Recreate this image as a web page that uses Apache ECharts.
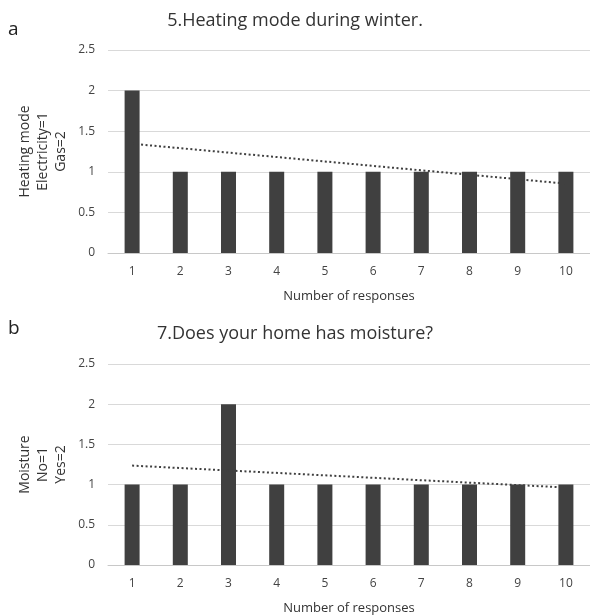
<!DOCTYPE html>
<html><head><meta charset="utf-8">
<script src="https://cdn.jsdelivr.net/npm/echarts@6/dist/echarts.min.js"></script>
<style>html,body{margin:0;padding:0;background:#fff}#c{width:590px;height:616px}</style>
</head><body><div id="c"></div>
<script>
const categories = ['1','2','3','4','5','6','7','8','9','10'];
const heatingValues = [2,1,1,1,1,1,1,1,1,1];
const moistureValues = [1,1,2,1,1,1,1,1,1,1];
const yTicks = [0,0.5,1,1.5,2,2.5];
const titles = ['5.Heating mode during winter.','7.Does your home has moisture?'];
const yNames = ['Heating mode\nElectricity=1\nGas=2','Moisture\nNo=1\nYes=2'];
const panelLetters = ['a','b'];
const xName = 'Number of responses';

function trend(vals){
  const n = vals.length; let sx=0,sy=0,sxy=0,sxx=0;
  vals.forEach((v,i)=>{const x=i+1;sx+=x;sy+=v;sxy+=x*v;sxx+=x*x;});
  const b=(n*sxy-sx*sy)/(n*sxx-sx*sx); const a=(sy-b*sx)/n;
  return [a+b*1, a+b*n];
}
const FONT = 'Open Sans';
const chart = echarts.init(document.getElementById('c'));
const grids = [{left:108,right:0,top:50,height:203},{left:108,right:0,top:364,height:202}];
const series = [heatingValues, moistureValues].map((vals,i)=>{
  const t = trend(vals);
  return {
    type:'bar', xAxisIndex:i, yAxisIndex:i, data:vals, barWidth:15,
    itemStyle:{color:'#404040'}, silent:true,
    markLine:{symbol:'none', silent:true, label:{show:false},
      lineStyle:{type:[2,2.5], color:'#404040', width:2},
      data:[[{coord:[categories[0], t[0]]},{coord:[categories[categories.length-1], t[1]]}]]}
  };
});
chart.setOption({
  animation:false,
  textStyle:{fontFamily:FONT},
  title: titles.map((t,i)=>({text:t, left:'center', top: i===0?7:320,
    textStyle:{fontFamily:FONT,fontSize:18,fontWeight:'normal',color:'#333'}})),
  graphic: panelLetters.map((l,i)=>({type:'text', left:8, top: i===0?20:319,
    style:{text:l, font:'19px "Open Sans"', fill:'#222'}})),
  grid: grids,
  xAxis: [0,1].map(i=>({type:'category', gridIndex:i, data:categories,
    axisTick:{show:false}, axisLine:{lineStyle:{color:'#c8c8c8',width:1}},
    axisLabel:{color:'#444',fontSize:12,margin:13,fontFamily:FONT},
    name:xName, nameLocation:'middle', nameGap:37, nameMoveOverlap:false,
    nameTextStyle:{color:'#333',fontSize:13,fontFamily:FONT}})),
  yAxis: [0,1].map(i=>({type:'value', gridIndex:i, min:yTicks[0], max:yTicks[yTicks.length-1], interval:0.5,
    axisLine:{show:false}, axisTick:{show:false},
    axisLabel:{color:'#444',fontSize:12,margin:13,fontFamily:FONT},
    splitLine:{lineStyle:{color:'#d9d9d9',width:1}},
    name:yNames[i], nameLocation:'middle', nameRotate:90, nameGap:38, nameMoveOverlap:false,
    nameTextStyle:{color:'#333',fontSize:14,lineHeight:18,fontFamily:FONT}})),
  series: series
});
</script></body></html>
